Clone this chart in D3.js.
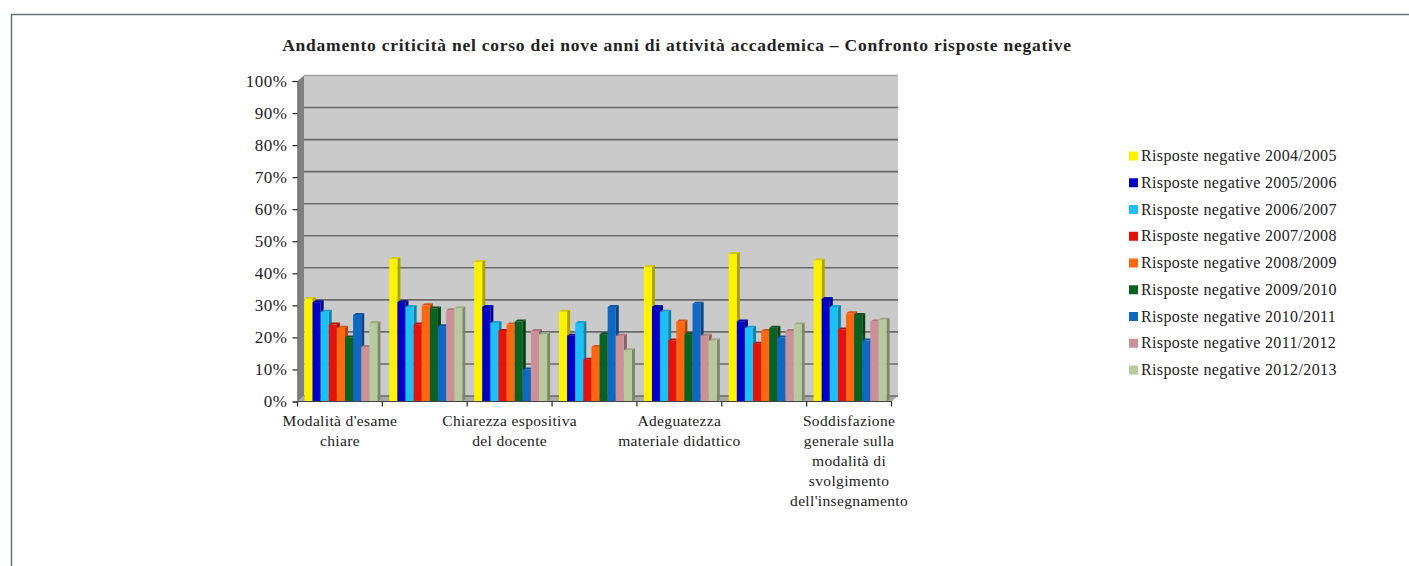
<!DOCTYPE html>
<html>
<head>
<meta charset="utf-8">
<script src="https://cdn.jsdelivr.net/npm/d3@7"></script>
<style>
  html, body { margin: 0; padding: 0; background: #fff; overflow: hidden; }
  text { font-family: "Liberation Serif", serif; fill: #222; }
</style>
</head>
<body>
<div id="chart"></div>
<script>
// ── Dati ──
const title = "Andamento criticità nel corso dei nove anni di attività accademica – Confronto risposte negative";
const categories = [
  ["Modalità d'esame", "chiare"],
  [],
  ["Chiarezza espositiva", "del docente"],
  [],
  ["Adeguatezza", "materiale didattico"],
  [],
  ["Soddisfazione", "generale sulla", "modalità di", "svolgimento", "dell'insegnamento"]
];
const yTicks = [0, 10, 20, 30, 40, 50, 60, 70, 80, 90, 100];
const seriesNames = [
  "Risposte negative 2004/2005", "Risposte negative 2005/2006", "Risposte negative 2006/2007",
  "Risposte negative 2007/2008", "Risposte negative 2008/2009", "Risposte negative 2009/2010",
  "Risposte negative 2010/2011", "Risposte negative 2011/2012", "Risposte negative 2012/2013"
];
const seriesColors = ["#fff200", "#0000c4", "#1cc0f6", "#e2120c", "#ff6612", "#0a6222", "#1068c2", "#cc9098", "#b9c99e"];
const v0405 = [32, 44.5, 43.5, 28, 42, 46, 44];
const v0506 = [31, 31, 29.5, 20.5, 29.5, 25, 32];
const v0607 = [28, 29.5, 24.5, 24.5, 28, 23, 29.5];
const v0708 = [24, 24, 22, 13, 19, 18, 22.5];
const v0809 = [23, 30, 24, 17, 25, 22, 27.5];
const v0910 = [20, 29, 25, 21, 21, 23, 27];
const v1011 = [27, 23.5, 10, 29.5, 30.5, 20, 19];
const v1112 = [17, 28.5, 22, 20.5, 20.5, 22, 25];
const v1213 = [24.5, 29, 21, 16, 19, 24, 25.5];
const seriesValues = [v0405, v0506, v0607, v0708, v0809, v0910, v1011, v1112, v1213];

// ── Olcek ──
const width = 1409, height = 566;
const x0 = 297.5, x1 = 891.5, wallDx = 6.5, wallDy = -5.5;
const barDx = 3, barDy = -2;

const y = d3.scaleLinear().domain([0, 100]).range([401.5, 81]);
const xCat = d3.scaleBand().domain(d3.range(categories.length)).range([x0 + 1, x1 + 1]).paddingInner(0.14).paddingOuter(0.07);
const xBar = d3.scaleBand().domain(d3.range(seriesNames.length)).range([0, xCat.bandwidth()]);
const step = (x1 - x0) / categories.length;

const svg = d3.select("#chart").append("svg")
  .attr("width", width).attr("height", height)
  .attr("viewBox", [0, 0, width, height])
  .style("display", "block");

// cerceve
svg.append("path")
  .attr("d", `M11.5,${height}V14.5H${width}`)
  .attr("fill", "none").attr("stroke", "#5f7474").attr("stroke-width", 1.5);

svg.append("text")
  .attr("x", 677).attr("y", 51).attr("text-anchor", "middle")
  .attr("font-size", "17.5px").attr("font-weight", "700")
  .attr("letter-spacing", "0.76px")
  .text(title);

// ── Duvarlar ──
svg.append("rect")
  .attr("x", x0 + wallDx).attr("y", y(100) + wallDy)
  .attr("width", x1 - x0).attr("height", y(0) - y(100))
  .attr("fill", "#cacaca");
svg.append("path")
  .attr("d", `M${x0},${y(0)}L${x0 + wallDx},${y(0) + wallDy}V${y(100) + wallDy}L${x0},${y(100)}Z`)
  .attr("fill", "#808080");
svg.append("path")
  .attr("d", `M${x0},${y(0)}L${x0 + wallDx},${y(0) + wallDy}H${x1 + wallDx}L${x1},${y(0)}Z`)
  .attr("fill", "#a8a8a8");
svg.append("line")
  .attr("x1", x0 + wallDx).attr("x2", x1 + wallDx)
  .attr("y1", y(100) + wallDy).attr("y2", y(100) + wallDy)
  .attr("stroke", "#a5a5a5").attr("stroke-width", 1.5);

// izgara
svg.append("g").selectAll("path").data(yTicks.filter(d => d < 100)).join("path")
  .attr("d", d => `M${x0 + wallDx},${y(d) + wallDy}H${x1 + wallDx}`)
  .attr("fill", "none").attr("stroke", "#6a6a6a").attr("stroke-width", 1.6);

// ── Cubuklar ──
const bars = svg.append("g").selectAll("g")
  .data(seriesValues.flatMap((vals, s) => vals.map((v, c) => ({ s, c, v }))).sort((a, b) => a.c - b.c || a.s - b.s))
  .join("g");

const bx = d => xCat(d.c) + xBar(d.s);
const bw = xBar.bandwidth();

bars.append("path") // yan yuz
  .attr("d", d => `M${bx(d) + bw},${y(d.v)}l${barDx},${barDy}V${y(0) + barDy}l${-barDx},${-barDy}Z`)
  .attr("fill", d => d3.color(seriesColors[d.s]).darker(1.1));
bars.append("path") // ust yuz
  .attr("d", d => `M${bx(d)},${y(d.v)}l${barDx},${barDy}h${bw}l${-barDx},${-barDy}Z`)
  .attr("fill", d => d3.color(seriesColors[d.s]).darker(0.5));
bars.append("rect") // on yuz
  .attr("x", bx).attr("y", d => y(d.v))
  .attr("width", bw).attr("height", d => y(0) - y(d.v))
  .attr("fill", d => seriesColors[d.s]);

// ── Eksenler ──
const yAxis = svg.append("g")
  .attr("transform", `translate(${x0},0)`)
  .call(d3.axisLeft(y).tickValues(yTicks).tickFormat(d => d + "%").tickSize(5).tickPadding(5));
yAxis.select(".domain").attr("stroke", "#666").attr("stroke-width", 1);
yAxis.selectAll(".tick line").attr("stroke", "#222").attr("stroke-width", 1.2);
yAxis.selectAll("text").attr("font-size", "17px").style("font-family", '"Liberation Serif", serif').attr("fill", "#222").attr("letter-spacing", "0.5px");

svg.append("line")
  .attr("x1", x0).attr("x2", x1).attr("y1", y(0)).attr("y2", y(0))
  .attr("stroke", "#444").attr("stroke-width", 1.2);
svg.append("g").selectAll("line").data(d3.range(categories.length + 1)).join("line")
  .attr("x1", d => x0 + d * step).attr("x2", d => x0 + d * step)
  .attr("y1", y(0)).attr("y2", y(0) + 5)
  .attr("stroke", "#222").attr("stroke-width", 1.2);

const catLabel = svg.append("g").selectAll("text").data(categories).join("text")
  .attr("text-anchor", "middle")
  .attr("font-size", "15.5px")
  .attr("letter-spacing", "0.35px");
catLabel.selectAll("tspan").data((d, i) => d.map(line => ({ line, i }))).join("tspan")
  .attr("x", d => x0 + (d.i + 0.5) * step)
  .attr("y", (d, j) => 426 + j * 20)
  .text(d => d.line);

// ── Gosterge ──
const legendY = d3.scalePoint().domain(seriesNames).range([156, 370]);
const legend = svg.append("g").selectAll("g").data(seriesNames).join("g")
  .attr("transform", d => `translate(1129,${legendY(d)})`);
legend.append("rect")
  .attr("x", 0).attr("y", -4.5).attr("width", 9).attr("height", 9)
  .attr("fill", (d, i) => seriesColors[i]);
legend.append("text")
  .attr("x", 12).attr("y", 5)
  .attr("font-size", "16px").attr("letter-spacing", "0.37px")
  .text(d => d);
</script>
</body>
</html>
